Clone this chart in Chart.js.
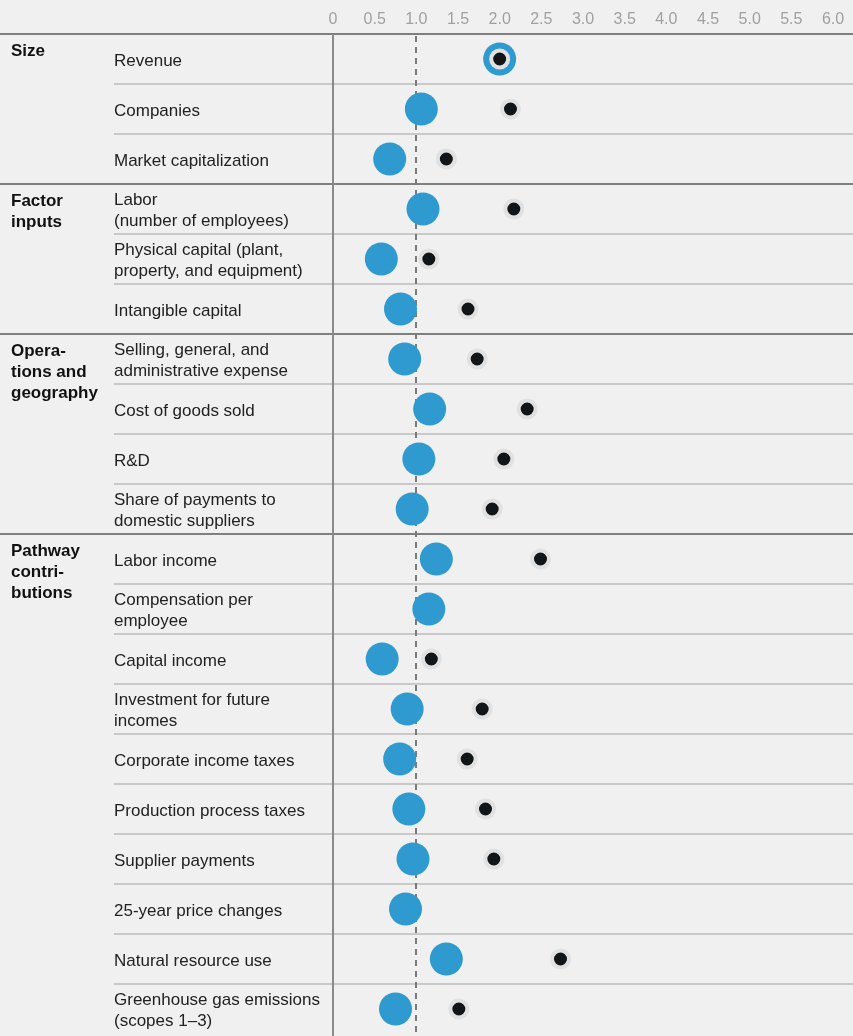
<!DOCTYPE html>
<html>
<head>
<meta charset="utf-8">
<title>Size, inputs and pathway contributions</title>
<script src="https://cdn.jsdelivr.net/npm/chart.js@4.4.1/dist/chart.umd.min.js"></script>
<style>
    html, body { margin: 0; padding: 0; background: #f0f0f0; }
    #wrap { width: 853px; height: 1036px; }
</style>
</head>
<body>
<div id="wrap"><canvas id="dots-chart" width="853" height="1036"></canvas></div>
<script>
// Filas del grafico (las etiquetas con varias lineas van como arrays)
const categories = [
    'Revenue',
    'Companies',
    'Market capitalization',
    ['Labor', '(number of employees)'],
    ['Physical capital (plant,', 'property, and equipment)'],
    'Intangible capital',
    ['Selling, general, and', 'administrative expense'],
    'Cost of goods sold',
    'R&D',
    ['Share of payments to', 'domestic suppliers'],
    'Labor income',
    ['Compensation per', 'employee'],
    'Capital income',
    ['Investment for future', 'incomes'],
    'Corporate income taxes',
    'Production process taxes',
    'Supplier payments',
    '25-year price changes',
    'Natural resource use',
    ['Greenhouse gas emissions', '(scopes 1–3)']
];

const groupLabels = [
    ['Size'],
    ['Factor', 'inputs'],
    ['Opera-', 'tions and', 'geography'],
    ['Pathway', 'contri-', 'butions']
];
const groupFirstRow = [0, 3, 6, 10];

const blueValues = [
    2.00, 1.06, 0.68,
    1.08, 0.58, 0.81,
    0.86, 1.16, 1.03, 0.95,
    1.24, 1.15, 0.59, 0.89, 0.80, 0.91, 0.96, 0.87, 1.36, 0.75
];

const blackValues = [
    2.00, 2.13, 1.36,
    2.17, 1.15, 1.62,
    1.73, 2.33, 2.05, 1.91,
    2.49, null, 1.18, 1.79, 1.61, 1.83, 1.93, null, 2.73, 1.51
];

const xTickValues = [0, 0.5, 1, 1.5, 2, 2.5, 3, 3.5, 4, 4.5, 5, 5.5, 6];
const xTickLabels = ['0', '0.5', '1.0', '1.5', '2.0', '2.5', '3.0', '3.5', '4.0', '4.5', '5.0', '5.5', '6.0'];
const referenceValue = 1;

const FONT = "'Liberation Sans', Arial, Helvetica, sans-serif";

// Lineas de filas, grupos, eje y linea de referencia punteada
const gridPlugin = {
    id: 'rowLines',
    afterUpdate(chart) {
        // bajar un poco las etiquetas de las filas
        chart.scales.y.getLabelItems().forEach(item => {
            item.options.translation[1] += 2;
        });
    },
    beforeDatasetsDraw(chart) {
        const { ctx, chartArea, scales } = chart;
        const y = scales.y;
        const x = scales.x;
        const right = chart.width;
        ctx.save();
        ctx.lineWidth = 2;

        for (let i = 1; i < categories.length; i++) {
            if (groupFirstRow.includes(i)) continue;
            const py = Math.round(y.getPixelForValue(i - 0.5));
            ctx.strokeStyle = '#c9c9c9';
            ctx.beginPath();
            ctx.moveTo(114, py);
            ctx.lineTo(right, py);
            ctx.stroke();
        }

        ctx.strokeStyle = '#7f7f7f';
        groupFirstRow.forEach(row => {
            const py = row === 0 ? chartArea.top : Math.round(y.getPixelForValue(row - 0.5));
            ctx.beginPath();
            ctx.moveTo(0, py);
            ctx.lineTo(right, py);
            ctx.stroke();
        });

        // eje vertical en 0
        const x0 = Math.round(x.getPixelForValue(0));
        ctx.strokeStyle = '#8a8a8a';
        ctx.beginPath();
        ctx.moveTo(x0, chartArea.top);
        ctx.lineTo(x0, chart.height);
        ctx.stroke();

        // referencia en 1.0
        const x1 = Math.round(x.getPixelForValue(referenceValue));
        ctx.strokeStyle = '#7a7a7a';
        ctx.setLineDash([6, 5]);
        ctx.beginPath();
        ctx.moveTo(x1, chartArea.top + 2);
        ctx.lineTo(x1, chart.height);
        ctx.stroke();
        ctx.restore();
    },
    afterDraw(chart) {
        const { ctx, scales } = chart;
        ctx.save();
        ctx.fillStyle = '#111';
        ctx.font = 'bold 17px ' + FONT;
        ctx.textAlign = 'left';
        ctx.textBaseline = 'middle';
        groupLabels.forEach((lines, g) => {
            const top = scales.y.getPixelForValue(groupFirstRow[g] - 0.5);
            lines.forEach((line, k) => {
                ctx.fillText(line, 11, top + 17 + k * 21);
            });
        });
        ctx.restore();
    }
};

function toPoints(values) {
    return values
        .map((v, i) => ({ x: v, y: i }))
        .filter(p => p.x !== null);
}

Chart.defaults.font.family = FONT;

new Chart(document.getElementById('dots-chart'), {
    type: 'scatter',
    data: {
        datasets: [
            {
                label: 'Black',
                data: toPoints(blackValues),
                backgroundColor: '#121518',
                borderColor: '#e1e1e1',
                pointRadius: 8.5,
                pointHoverRadius: 8.5,
                borderWidth: 4,
                order: 0
            },
            {
                label: 'Blue',
                data: toPoints(blueValues),
                backgroundColor: '#2e9ad0',
                borderWidth: 0,
                pointRadius: 16.5,
                pointHoverRadius: 16.5,
                order: 1
            }
        ]
    },
    plugins: [gridPlugin],
    options: {
        responsive: false,
        animation: false,
        devicePixelRatio: 1,
        events: [],
        layout: {
            autoPadding: false,
            padding: { left: 114, right: 20, top: 0, bottom: 2 }
        },
        plugins: {
            legend: { display: false },
            tooltip: { enabled: false }
        },
        scales: {
            x: {
                type: 'linear',
                position: 'top',
                min: 0,
                max: 6,
                afterBuildTicks: scale => {
                    scale.ticks = xTickValues.map(v => ({ value: v }));
                },
                afterFit: scale => {
                    scale.height = 34;
                    scale.paddingLeft = 0;
                    scale.paddingRight = 0;
                },
                grid: { display: false, drawTicks: false },
                border: { display: false },
                ticks: {
                    autoSkip: false,
                    maxRotation: 0,
                    padding: 5,
                    color: '#a0a0a0',
                    font: { size: 16 },
                    callback: (value, index) => xTickLabels[index]
                }
            },
            y: {
                type: 'linear',
                reverse: true,
                min: -0.5,
                max: categories.length - 0.5,
                afterBuildTicks: scale => {
                    scale.ticks = categories.map((c, i) => ({ value: i }));
                },
                afterFit: scale => {
                    scale.width = 219;
                    scale.paddingTop = 0;
                    scale.paddingBottom = 0;
                },
                grid: { display: false, drawTicks: false },
                border: { display: false },
                ticks: {
                    autoSkip: false,
                    crossAlign: 'far',
                    color: '#222',
                    font: { size: 17, lineHeight: 21 / 17 },
                    callback: (value, index) => categories[index]
                }
            }
        }
    }
});
</script>
</body>
</html>
